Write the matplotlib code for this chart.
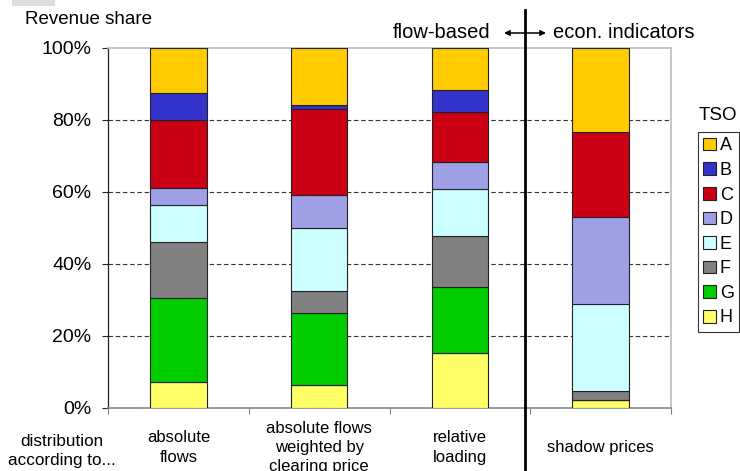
import numpy as np
import matplotlib.pyplot as plt
from matplotlib.patches import Patch, Rectangle
from matplotlib.lines import Line2D
import matplotlib.transforms as mtransforms

plt.rcParams['font.family'] = ['Liberation Sans', 'DejaVu Sans']

# categories (x axis)
categories = ["absolute\nflows",
              "absolute flows\nweighted by\nclearing price",
              "relative\nloading",
              "shadow prices"]

# revenue share in % per TSO, one value per category (bottom to top: H ... A)
tso = ["A", "B", "C", "D", "E", "F", "G", "H"]
share_A = [12.4, 15.8, 11.7, 23.4]
share_B = [7.6, 1.2, 6.0, 0.0]
share_C = [18.9, 23.7, 14.0, 23.6]
share_D = [4.6, 9.3, 7.6, 24.2]
share_E = [10.4, 17.6, 12.9, 24.0]
share_F = [15.5, 6.1, 14.1, 2.6]
share_G = [23.4, 20.0, 18.3, 0.0]
share_H = [7.2, 6.3, 15.4, 2.2]

colors = {"A": "#FFCC00", "B": "#3333CC", "C": "#CC0014", "D": "#A0A0E6",
          "E": "#CCFFFF", "F": "#808080", "G": "#00CC00", "H": "#FFFF66"}

shares = {"A": share_A, "B": share_B, "C": share_C, "D": share_D,
          "E": share_E, "F": share_F, "G": share_G, "H": share_H}

fig = plt.figure(figsize=(7.4, 4.71), dpi=100)
ax = fig.add_axes([108/740, 1-408/471, (671-108)/740, 360/471])

x = np.arange(len(categories))
bottom = np.zeros(len(categories))
for name in ["H", "G", "F", "E", "D", "C", "B", "A"]:
    vals = np.array(shares[name])
    ax.bar(x, vals, width=0.4, bottom=bottom, color=colors[name],
           edgecolor="#222222", linewidth=0.8, zorder=3)
    bottom += vals

ax.set_xlim(-0.5, 3.5)
ax.set_ylim(0, 100)
ax.set_yticks([0, 20, 40, 60, 80, 100])
ax.set_yticklabels(["0%", "20%", "40%", "60%", "80%", "100%"], fontsize=14)
ax.tick_params(axis="y", direction="out", length=4, width=0.8, pad=8, color="#222222")
for yv in [20, 40, 60, 80]:
    ax.axhline(yv, color="#333333", lw=0.8, ls=(0, (4, 2.5)), zorder=1)

# x ticks at the category borders, labels under each bar
ax.set_xticks(np.arange(-0.5, 4.0, 1.0))
ax.set_xticklabels([])
ax.tick_params(axis="x", direction="out", length=4, width=0.8, color="#808080")
trans = mtransforms.blended_transform_factory(ax.transData, ax.transAxes)
for i, lab in enumerate(categories):
    ax.text(i, -0.11, lab, transform=trans, ha="center", va="center",
            fontsize=12, linespacing=1.35, clip_on=False)

ax.spines["left"].set_color("#222222")
ax.spines["left"].set_linewidth(0.9)
for s in ["top", "right"]:
    ax.spines[s].set_color("#BBBBBB")
    ax.spines[s].set_linewidth(1.2)
ax.spines["bottom"].set_color("#888888")
ax.spines["bottom"].set_linewidth(1.2)

# texts around the plot
fig.text(25/740, 1-20/471, "Revenue share", fontsize=13.5, ha="left", va="center")
fig.text(62/740, 1-451/471, "distribution\naccording to...", fontsize=12.3,
         ha="center", va="center", linespacing=1.35)
fig.text(490/740, 1-32/471, "flow-based", fontsize=14.5, ha="right", va="center")
fig.text(553/740, 1-32/471, "econ. indicators", fontsize=14.5, ha="left", va="center")
fig.patches.append(Rectangle((12/740, 1-6/471), 43/740, 6/471, transform=fig.transFigure,
                             facecolor="#DDDDDD", edgecolor="none"))

# separating line and arrow
fig.add_artist(Line2D([525/740, 525/740], [0, 1-10/471], transform=fig.transFigure,
                      color="black", lw=2.0))
ax.annotate("", xy=(546/740, 1-33/471), xytext=(504/740, 1-33/471),
            xycoords="figure fraction", textcoords="figure fraction",
            arrowprops=dict(arrowstyle="<|-|>", color="black", lw=1.1,
                            mutation_scale=8, shrinkA=0, shrinkB=0))

# legend
handles = [Patch(facecolor=colors[n], edgecolor="#222222", linewidth=0.8, label=n) for n in tso]
fig.text(718/740, 1-115/471, "TSO", fontsize=13.5, ha="center", va="center")
leg = fig.legend(handles=handles, loc="upper left", bbox_to_anchor=(698/740, 1-132/471),
                 fontsize=13, frameon=True, fancybox=False, edgecolor="black",
                 handlelength=0.7, handleheight=0.7, handletextpad=0.2,
                 labelspacing=0.42, borderpad=0.3, borderaxespad=0)
leg.get_frame().set_linewidth(0.8)

fig.savefig("out.png", dpi=100)
